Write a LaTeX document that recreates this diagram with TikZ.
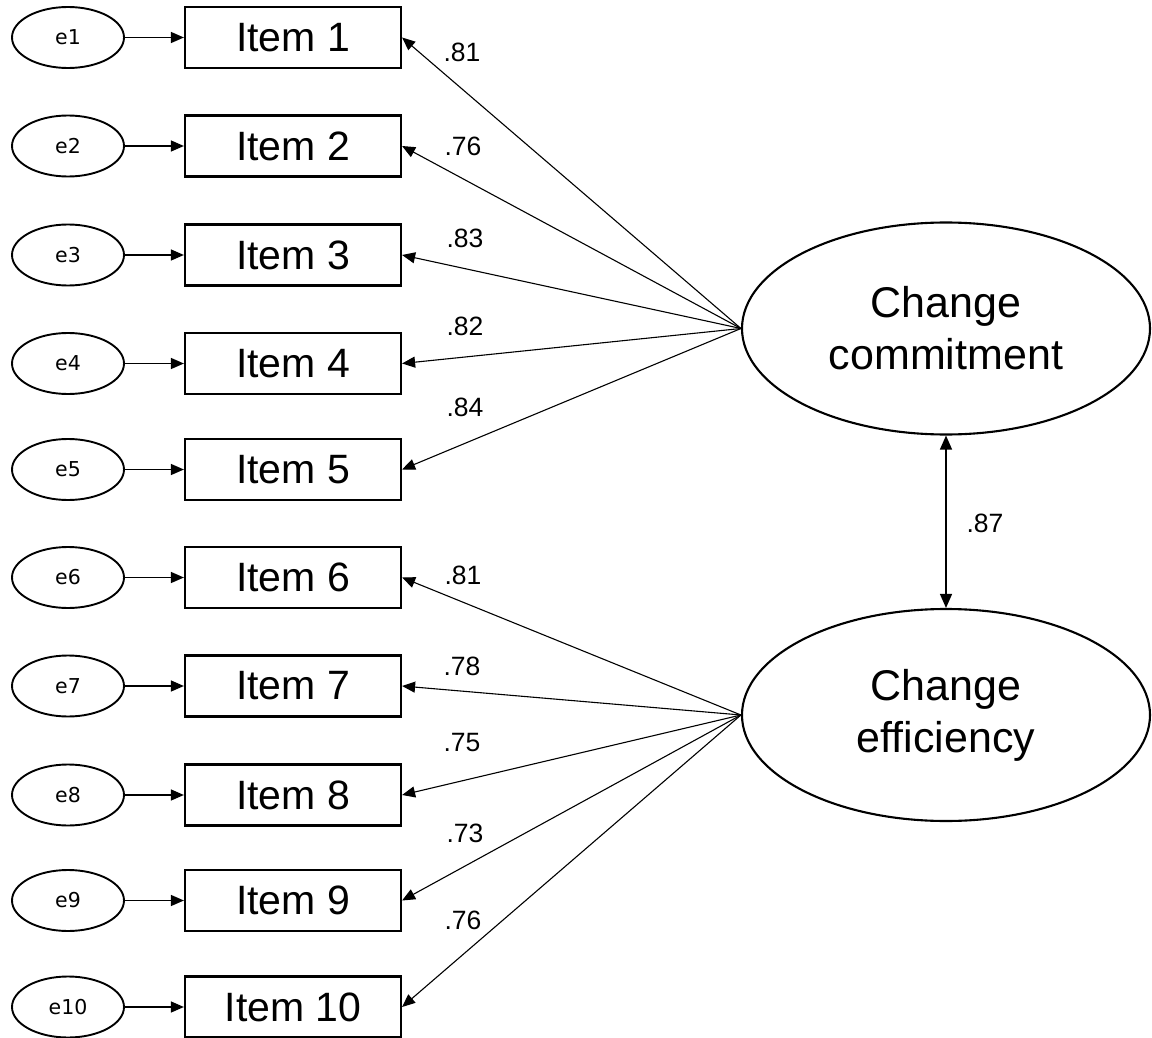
\documentclass[tikz,border=0pt]{standalone}
\usepackage{fontspec}
\setmainfont{Liberation Sans}
\newfontfamily\efont{DejaVu Sans}
\usetikzlibrary{shapes.geometric,arrows.meta}
\tikzset{
  itembox/.style={draw, line width=2.2pt, minimum width=216pt, minimum height=61pt, inner sep=0pt, font=\fontsize{41}{48}\selectfont},
  errell/.style={draw, ellipse, line width=1.9pt, minimum width=112pt, minimum height=61pt, inner sep=0pt, font=\efont\fontsize{20.5}{24}\selectfont},
  latent/.style={draw, ellipse, line width=2.1pt, minimum width=408pt, minimum height=212pt, inner sep=0pt, align=center, font=\fontsize{43}{52}\selectfont},
  tipA/.style={-{Triangle[length=13pt,width=11pt]}},
  earrow/.style={tipA, line width=1.4pt},
  load/.style={tipA, line width=1.1pt},
  lbl/.style={inner sep=0pt, font=\fontsize{26.5}{30}\selectfont},
}
\begin{document}
\begin{tikzpicture}[x=1pt,y=-1pt]
\useasboundingbox (0,0) rectangle (1152,1038);
% latent variables
\node[latent] (cc) at (946,328.5) {Change\\commitment};
\node[latent] (ce) at (946,715) {Change\\efficiency};
% items and errors
\foreach \i/\y in {1/37.5,2/146,3/255,4/363.5,5/469.5,6/577.5,7/686,8/795,9/900.5,10/1007}{
  \node[itembox] (item\i) at (293,\y) {Item \i};
  \node[errell] (e\i) at (68,\y) {e\i};
  \draw[earrow] (e\i.east) -- (item\i.west);
}
% loadings
\coordinate (ccw) at (cc.west);
\coordinate (cew) at (ce.west);
\foreach \i in {1,...,5}{ \draw[load] (ccw) -- (item\i.east); }
\foreach \i in {6,...,10}{ \draw[load] (cew) -- (item\i.east); }
% loading labels
\node[lbl] (l1) at (462,52) {.81};
\node[lbl] (l2) at (463,146) {.76};
\node[lbl] (l3) at (465,238) {.83};
\node[lbl] (l4) at (465,326) {.82};
\node[lbl] (l5) at (465,407) {.84};
\node[lbl] (l6) at (463,575) {.81};
\node[lbl] (l7) at (462,666) {.78};
\node[lbl] (l8) at (462,743) {.75};
\node[lbl] (l9) at (465,833) {.73};
\node[lbl] (l10) at (463,920) {.76};
% correlation
\draw[{Triangle[length=14pt,width=12pt]}-{Triangle[length=14pt,width=12pt]}, line width=1.3pt] (cc.south) -- (ce.north);
\node[lbl] (r) at (985,523) {.87};
\end{tikzpicture}
\end{document}
